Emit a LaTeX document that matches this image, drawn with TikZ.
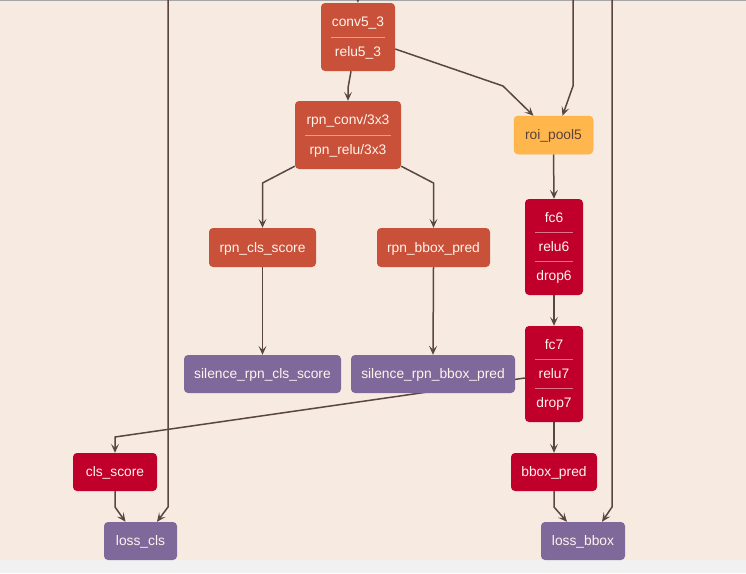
\documentclass[tikz,border=0pt]{standalone}
\usepackage{fontspec}
\setmainfont{Liberation Sans}
\usetikzlibrary{arrows.meta}
\definecolor{bgcream}{HTML}{F6EAE1}
\definecolor{bggray}{HTML}{F1F1F1}
\definecolor{edgec}{HTML}{5A4640}
\definecolor{orng}{HTML}{C9513A}
\definecolor{redc}{HTML}{C0002A}
\definecolor{purp}{HTML}{7F699A}
\definecolor{yell}{HTML}{FFB74D}
\definecolor{txtw}{HTML}{FFF4EC}
\definecolor{txtd}{HTML}{5D4037}
\pgfdeclarelayer{bg}
\pgfdeclarelayer{edges}
\pgfsetlayers{bg,edges,main}
\tikzset{
  box/.style={rounded corners=4pt, inner sep=0pt, font=\fontsize{13.8}{15}\selectfont, text=txtw, text height=12pt, text depth=3pt},
  obox/.style={box, fill=orng},
  rbox/.style={box, fill=redc},
  pbox/.style={box, fill=purp},
  ybox/.style={box, fill=yell, draw=yell!85!orange, line width=0.5pt, text=txtd},
  lbl/.style={inner sep=0pt, font=\fontsize{13.8}{15}\selectfont, text=txtw, text height=12pt, text depth=3pt},
  divl/.style={draw=white, opacity=0.45, line width=0.7pt},
  edge/.style={draw=edgec, line width=1.5pt, -{Stealth[length=9pt,width=8pt,inset=4pt]}}
}
\begin{document}
\begin{tikzpicture}[x=1pt,y=-1pt]
\useasboundingbox (0,0) rectangle (746,573);
\begin{pgfonlayer}{bg}
\fill[bggray] (0,0) rectangle (746,573);
\fill[bgcream] (0,0) rectangle (746,560);
\fill[black!35] (0,0) rectangle (746,1.2);
\end{pgfonlayer}
\clip (0,1.2) rectangle (746,560);
% nodes
\node[obox, minimum width=74pt, minimum height=68pt] (conv) at (358,37) {};
\node[lbl] at (358,22) {conv5\_3};
\draw[divl] (331,37) -- (385,37);
\node[lbl] at (358,51.5) {relu5\_3};

\node[obox, minimum width=106pt, minimum height=68pt] (rpnconv) at (348,135) {};
\node[lbl] at (348,120) {rpn\_conv/3x3};
\draw[divl] (305,135) -- (391,135);
\node[lbl] at (348,149.5) {rpn\_relu/3x3};

\node[ybox, minimum width=79pt, minimum height=38pt] (roi) at (553.5,135) {roi\_pool5};

\node[obox, minimum width=107pt, minimum height=39pt] (rpncls) at (262.5,247.5) {rpn\_cls\_score};
\node[obox, minimum width=113pt, minimum height=39pt] (rpnbbox) at (433.5,247.5) {rpn\_bbox\_pred};

\node[rbox, minimum width=58pt, minimum height=96pt] (fc6) at (554,247) {};
\node[lbl] at (554,217.5) {fc6};
\draw[divl] (535,232.5) -- (573,232.5);
\node[lbl] at (554,247) {relu6};
\draw[divl] (535,261.5) -- (573,261.5);
\node[lbl] at (554,276) {drop6};

\node[rbox, minimum width=58pt, minimum height=96pt] (fc7) at (554,374) {};
\node[lbl] at (554,344.5) {fc7};
\draw[divl] (535,359.5) -- (573,359.5);
\node[lbl] at (554,374) {relu7};
\draw[divl] (535,388.5) -- (573,388.5);
\node[lbl] at (554,403) {drop7};

\node[pbox, minimum width=157pt, minimum height=38pt] (silcls) at (262.5,374) {silence\_rpn\_cls\_score};
\node[pbox, minimum width=164pt, minimum height=38pt] (silbbox) at (433,374) {silence\_rpn\_bbox\_pred};

\node[rbox, minimum width=84pt, minimum height=38pt] (clsscore) at (115,472) {cls\_score};
\node[rbox, minimum width=86pt, minimum height=38pt] (bboxpred) at (554,472) {bbox\_pred};

\node[pbox, minimum width=73pt, minimum height=38pt] (losscls) at (140.5,541) {loss\_cls};
\node[pbox, minimum width=84pt, minimum height=38pt] (lossbbox) at (583,541) {loss\_bbox};

% free ends
\coordinate (topc) at (357,-12);
\coordinate (topl) at (168,-5);
\coordinate (topr) at (612,-5);
\coordinate (toprr) at (573,-5);

\begin{pgfonlayer}{edges}
\draw[edge] (topc) -- (conv.north);
\draw[edge] (topl) -- (168,507) -- ([xshift=16.5pt]losscls.north);
\draw[edge] (clsscore.south) -- (115,507) -- ([xshift=-15pt]losscls.north);
\draw[edge] (topr) -- (612,507) -- ([xshift=19pt]lossbbox.north);
\draw[edge] (bboxpred.south) -- (554,507) -- ([xshift=-16pt]lossbbox.north);
\draw[edge] (toprr) -- (573,86) -- ([xshift=9pt]roi.north);
\draw[edge] ([yshift=-12pt]conv.east) -- (503,86) -- ([xshift=-20pt]roi.north);
\draw[edge] ([xshift=-7pt]conv.south) -- (348,88) -- (rpnconv.north);
\draw[edge] ([yshift=3pt]rpnconv.south west) -- (262.5,183) -- (rpncls.north);
\draw[edge] ([yshift=3pt]rpnconv.south east) -- (433.5,183) -- (rpnbbox.north);
\draw[edge] (rpncls.south) -- (silcls.north);
\draw[edge] (rpnbbox.south) -- (silbbox.north);
\draw[edge] (roi.south) -- (fc6.north);
\draw[edge] (fc6.south) -- (fc7.north);
\draw[edge] (fc7.south) -- (bboxpred.north);
\draw[edge] ([yshift=-4pt]fc7.west) -- (115,437) -- (clsscore.north);
\end{pgfonlayer}
\end{tikzpicture}
\end{document}
